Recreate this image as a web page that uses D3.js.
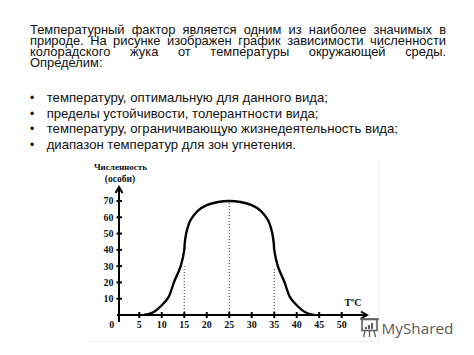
<!DOCTYPE html>
<html><head><meta charset="utf-8">
<script src="https://cdn.jsdelivr.net/npm/d3@7"></script>
<style>html,body{margin:0;padding:0;background:#fff;}svg{display:block;}</style>
</head><body>
<svg id="c" width="474" height="355"></svg>
<script>
// ---- text content ----
const paragraphLines = [
  "Температурный фактор является одним из наиболее значимых в",
  "природе. На рисунке изображен график зависимости численности",
  "колорадского жука от температуры окружающей среды.",
  "Определим:"
];
const bulletItems = [
  "температуру, оптимальную для данного вида;",
  "пределы устойчивости, толерантности вида;",
  "температуру, ограничивающую жизнедеятельность вида;",
  "диапазон температур для зон угнетения."
];
const yAxisTitle = ["Численность", "(особи)"];
const xAxisTitle = "TºC";
const xTicks = [5, 10, 15, 20, 25, 30, 35, 40, 45, 50];
const yTicks = [10, 20, 30, 40, 50, 60, 70];
// ---- data: temperature vs population ----
const temps  = [6, 8, 10, 11.5, 12.7, 14.2, 15, 15.1, 15.5, 16.4, 18, 20, 22.5, 25, 27.5, 30, 32, 33.6, 34.5, 34.9, 35, 35.8, 37.3, 38.5, 40, 42, 43.8];
const counts = [0, 1.5, 6, 11, 20, 30, 40, 44, 51, 58.3, 64, 67.5, 69.4, 70, 69.4, 67.5, 64, 58.3, 51, 44, 40, 30, 20, 11, 6, 1.5, 0];
const guideTemps  = [15, 25, 35];
const guideCounts = [30, 70, 29];

const svg = d3.select("#c");

// faint frame of the embedded picture
svg.append("line").attr("x1", 378.5).attr("x2", 378.5).attr("y1", 160).attr("y2", 341)
  .attr("stroke", "#eeeeee").attr("stroke-width", 1);
svg.append("line").attr("x1", 88).attr("x2", 378.5).attr("y1", 341.5).attr("y2", 341.5)
  .attr("stroke", "#eeeeee").attr("stroke-width", 1);

// ---- paragraph (justified with word-spacing) ----
const bodyFont = "'Liberation Sans', Arial, sans-serif";
const pLeft = 30, pRight = 446, pBase = 34, pLead = 11.1, pSize = 12.9;
paragraphLines.forEach((line, i) => {
  const yy = pBase + i * pLead;
  const t = svg.append("text").attr("x", pLeft).attr("y", yy).attr("font-family", bodyFont)
    .attr("font-size", pSize).attr("fill", "#111").text(line);
  if (i < paragraphLines.length - 1) {
    const nGaps = line.split(" ").length - 1;
    const w = t.node().getComputedTextLength();
    const extra = (pRight - pLeft - w) / nGaps;
    if (extra >= 0) t.attr("word-spacing", extra.toFixed(2));
    else t.attr("textLength", pRight - pLeft).attr("lengthAdjust", "spacingAndGlyphs");
  }
});

// ---- bullets ----
const bBase = [102, 117.7, 133.3, 149];
const bEnd = [328, 318.5, 398, 296];
bulletItems.forEach((t, i) => {
  svg.append("text").attr("x", 30).attr("y", bBase[i]).attr("font-family", bodyFont)
    .attr("font-size", 12).attr("fill", "#111").text("•");
  svg.append("text").attr("x", 46.7).attr("y", bBase[i]).attr("font-family", bodyFont)
    .attr("font-size", 12.8).attr("fill", "#111")
    .attr("textLength", bEnd[i] - 46.7).attr("lengthAdjust", "spacingAndGlyphs").text(t);
});

// ---- chart ----
const x = d3.scaleLinear().domain([0, 50]).range([116.8, 341.7]);
const y = d3.scaleLinear().domain([0, 70]).range([315, 201]);
const axisX = 119; // position of vertical axis line
const serif = "'Liberation Serif', 'Times New Roman', serif";
const g = svg.append("g");

// dotted guides
guideTemps.forEach((t, i) => {
  g.append("line").attr("x1", x(t)).attr("x2", x(t)).attr("y1", y(0)).attr("y2", y(guideCounts[i]))
    .attr("stroke", "#333").attr("stroke-width", 1).attr("stroke-dasharray", "1,2");
});

// axes lines
g.append("line").attr("x1", axisX).attr("x2", axisX).attr("y1", 322).attr("y2", 187)
  .attr("stroke", "#000").attr("stroke-width", 2);
g.append("path").attr("d", `M${axisX - 3.5},${193} L${axisX},${187} L${axisX + 3.5},${193}`)
  .attr("fill", "none").attr("stroke", "#000").attr("stroke-width", 2);
g.append("line").attr("x1", axisX - 2).attr("x2", 367).attr("y1", y(0)).attr("y2", y(0))
  .attr("stroke", "#000").attr("stroke-width", 2);
g.append("path").attr("d", `M${361},${y(0) - 3.5} L${367},${y(0)} L${361},${y(0) + 3.5}`)
  .attr("fill", "none").attr("stroke", "#000").attr("stroke-width", 2);

// ticks
g.selectAll(".yt").data(yTicks).join("line").attr("class", "yt")
  .attr("x1", axisX - 2.5).attr("x2", axisX + 3).attr("y1", d => y(d)).attr("y2", d => y(d))
  .attr("stroke", "#000").attr("stroke-width", 2);
g.selectAll(".ytl").data(yTicks).join("text").attr("class", "ytl")
  .attr("x", 113.5).attr("y", d => y(d) + 3.4).attr("text-anchor", "end")
  .attr("font-family", serif).attr("font-weight", "bold").attr("font-size", 10).attr("fill", "#111")
  .text(d => d);
g.selectAll(".xt").data(xTicks).join("line").attr("class", "xt")
  .attr("x1", d => x(d)).attr("x2", d => x(d)).attr("y1", y(0) - 3).attr("y2", y(0) + 3)
  .attr("stroke", "#000").attr("stroke-width", 2);
g.selectAll(".xtl").data(xTicks).join("text").attr("class", "xtl")
  .attr("x", d => x(d)).attr("y", 327.5).attr("text-anchor", "middle")
  .attr("font-family", serif).attr("font-weight", "bold").attr("font-size", 10).attr("fill", "#111")
  .text(d => d);
g.append("text").attr("x", 111.7).attr("y", 327.5).attr("text-anchor", "middle")
  .attr("font-family", serif).attr("font-weight", "bold").attr("font-size", 10).attr("fill", "#111").text("0");

// axis titles
g.append("text").attr("x", 120.5).attr("y", 170).attr("text-anchor", "middle")
  .attr("font-family", serif).attr("font-weight", "bold").attr("font-size", 9).attr("fill", "#111")
  .attr("textLength", 53).attr("lengthAdjust", "spacingAndGlyphs").text(yAxisTitle[0]);
g.append("text").attr("x", 120).attr("y", 181.5).attr("text-anchor", "middle")
  .attr("font-family", serif).attr("font-weight", "bold").attr("font-size", 9.5).attr("fill", "#111")
  .text(yAxisTitle[1]);
g.append("text").attr("x", 353).attr("y", 306).attr("text-anchor", "middle")
  .attr("font-family", serif).attr("font-weight", "bold").attr("font-size", 10).attr("fill", "#111")
  .text(xAxisTitle);

// curve
const pts = temps.map((t, i) => [t, counts[i]]);
const line = d3.line().x(d => x(d[0])).y(d => y(d[1])).curve(d3.curveCatmullRom.alpha(0.5));
g.append("path").datum(pts).attr("d", line).attr("fill", "none")
  .attr("stroke", "#000").attr("stroke-width", 2.4).attr("stroke-linejoin", "round");

// watermark
const wm = svg.append("g").attr("fill", "none").attr("stroke", "#5f5f5f");
wm.append("rect").attr("x", 362).attr("y", 319.5).attr("width", 15).attr("height", 11).attr("stroke-width", 1.6);
wm.append("line").attr("x1", 360).attr("x2", 379).attr("y1", 319).attr("y2", 319).attr("stroke-width", 1.6);
[[365, 327, 2], [368, 325, 4], [371, 323, 6]].forEach(b => {
  svg.append("rect").attr("x", b[0]).attr("y", b[1]).attr("width", 2).attr("height", b[2]).attr("fill", "#5f5f5f");
});
wm.append("path").attr("d", "M365,331 L363.5,337 M369.5,331 L369.5,337 M374,331 L375.5,337").attr("stroke-width", 1.3);
svg.append("text").attr("x", 381.5).attr("y", 333.5).attr("font-family", "'Open Sans', sans-serif")
  .attr("font-size", 15.3).attr("fill", "#5a5a5a").text("MyShared");
</script>
</body></html>
